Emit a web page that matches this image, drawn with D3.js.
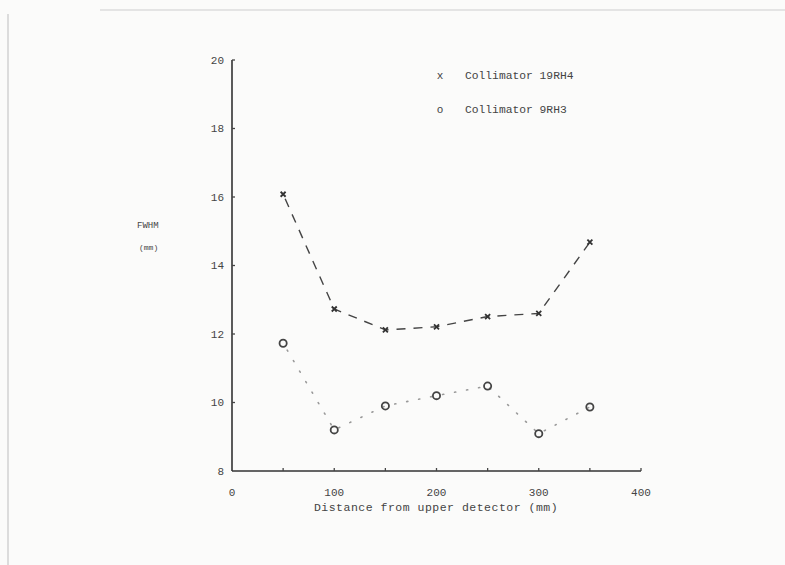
<!DOCTYPE html>
<html>
<head>
<meta charset="utf-8">
<script src="https://cdn.jsdelivr.net/npm/d3@7"></script>
<style>
html,body{margin:0;padding:0;background:#fbfbfa;}
svg{display:block;}
text{font-family:"Liberation Mono","DejaVu Sans Mono",monospace;fill:#444;}
</style>
</head>
<body>
<svg id="chart" width="785" height="565"></svg>
<script>
const distances = [50, 100, 150, 200, 250, 300, 350];
const coll19RH4 = [16.08, 12.73, 12.12, 12.21, 12.51, 12.6, 14.68];
const coll9RH3 = [11.73, 9.2, 9.9, 10.2, 10.48, 9.09, 9.87];
const xTickValues = [0, 100, 200, 300, 400];
const xMinorTicks = [50, 100, 150, 200, 250, 300, 350, 400];
const yTickValues = [8, 10, 12, 14, 16, 18, 20];
const legendLabels = ["Collimator 19RH4", "Collimator 9RH3"];

const svg = d3.select("#chart");

// page frame (scan look)
svg.append("rect").attr("x",0).attr("y",0).attr("width",785).attr("height",565).attr("fill","#fbfbfa");
svg.append("line").attr("x1",8).attr("x2",8).attr("y1",14).attr("y2",565).attr("stroke","#c8c8c8").attr("stroke-width",1.2);
svg.append("line").attr("x1",100).attr("x2",785).attr("y1",10).attr("y2",10).attr("stroke","#e4e4e4").attr("stroke-width",2);

const x = d3.scaleLinear().domain([0, 400]).range([232, 641]);
const y = d3.scaleLinear().domain([8, 20]).range([471, 60]);

// axes lines
svg.append("line").attr("x1",x(0)).attr("x2",x(0)).attr("y1",y(20)).attr("y2",y(8)).attr("stroke","#333").attr("stroke-width",1.6);
svg.append("line").attr("x1",x(0)).attr("x2",x(400)).attr("y1",y(8)).attr("y2",y(8)).attr("stroke","#333").attr("stroke-width",1.6);

// y ticks
yTickValues.forEach(v => {
  if (v > 8) svg.append("line").attr("x1",x(0)).attr("x2",x(0)+3).attr("y1",y(v)).attr("y2",y(v)).attr("stroke","#444").attr("stroke-width",1.3);
  svg.append("text").attr("x",x(0)-8).attr("y",y(v)).attr("dy","0.35em").attr("text-anchor","end").attr("font-size",11).text(v);
});
// x ticks
xMinorTicks.forEach(v => {
  svg.append("line").attr("x1",x(v)).attr("x2",x(v)).attr("y1",y(8)).attr("y2",y(8)-3).attr("stroke","#444").attr("stroke-width",1.3);
});
xTickValues.forEach(v => {
  svg.append("text").attr("x",x(v)).attr("y",y(8)+21).attr("dy","0.35em").attr("text-anchor","middle").attr("font-size",11).text(v);
});

// axis labels
svg.append("text").attr("x",436).attr("y",507).attr("dy","0.35em").attr("text-anchor","middle").attr("font-size",11.5).attr("letter-spacing",0.5).text("Distance from upper detector (mm)");
svg.append("text").attr("x",137).attr("y",225).attr("dy","0.35em").attr("font-size",9).text("FWHM");
svg.append("text").attr("x",139).attr("y",247).attr("dy","0.35em").attr("font-size",8).text("(mm)");

// lines
const line = d3.line().x((d,i) => x(distances[i])).y(d => y(d));
svg.append("path").datum(coll19RH4).attr("d",line).attr("fill","none").attr("stroke","#444").attr("stroke-width",1.4).attr("stroke-dasharray","9,8").attr("stroke-dashoffset",-5);
svg.append("path").datum(coll9RH3).attr("d",line).attr("fill","none").attr("stroke","#999").attr("stroke-width",1.6).attr("stroke-dasharray","1.2,11").attr("stroke-linecap","round").attr("stroke-dashoffset",-8);

// markers
const s = 2.5;
svg.selectAll(".cross").data(coll19RH4).enter().append("path")
  .attr("d",(d,i) => { const cx=x(distances[i]), cy=y(d); return `M${cx-s},${cy-s}L${cx+s},${cy+s}M${cx-s},${cy+s}L${cx+s},${cy-s}`; })
  .attr("stroke","#333").attr("stroke-width",1.8).attr("fill","none");
svg.selectAll(".circ").data(coll9RH3).enter().append("circle")
  .attr("cx",(d,i) => x(distances[i])).attr("cy",d => y(d)).attr("r",3.6)
  .attr("fill","none").attr("stroke","#444").attr("stroke-width",1.8);

// legend
svg.append("text").attr("x",440).attr("y",75).attr("dy","0.35em").attr("text-anchor","middle").attr("font-size",11).text("x");
svg.append("text").attr("x",440).attr("y",109).attr("dy","0.35em").attr("text-anchor","middle").attr("font-size",11).text("o");
legendLabels.forEach((t,i) => {
  svg.append("text").attr("x",465).attr("y",75 + i*34).attr("dy","0.35em").attr("font-size",11.3).text(t);
});
</script>
</body>
</html>
